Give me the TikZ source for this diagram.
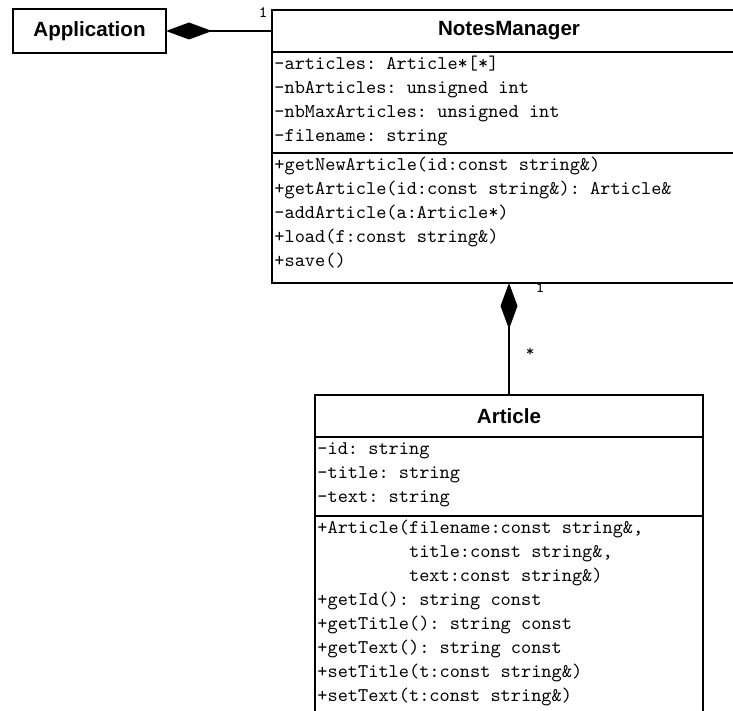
\documentclass[tikz,border=0pt]{standalone}
\usepackage{fontspec}
\setsansfont{Liberation Sans}
\usetikzlibrary{arrows.meta}
\usetikzlibrary{positioning}
\tikzstyle{classbox} = [rectangle, draw, line width=1.4pt, inner sep=0pt, outer sep=0pt, minimum height=21pt, font=\sffamily\bfseries\fontsize{10.3}{12}\selectfont]
\tikzstyle{classpart} = [rectangle, draw, line width=1.4pt, inner sep=0pt, outer sep=0pt]
\tikzstyle{members} = [align=left, anchor=north west, inner xsep=1pt, inner ysep=0pt, font=\ttfamily\frenchspacing\fontsize{9.7}{12}\selectfont]
\tikzstyle{mult} = [inner sep=0pt, font=\ttfamily\fontsize{8}{9}\selectfont]
\tikzstyle{composition} = [line width=1pt, -{Diamond[length=23pt, width=8.5pt]}]

\begin{document}
\begin{tikzpicture}[x=1pt, y=1pt]
		\useasboundingbox (0,0) rectangle (366.5,-355.5);
		\clip (0,0) rectangle (366.5,-355.5);
		% application
		\node [classbox, anchor=north west, minimum width=76.5pt, minimum height=22pt] (app) at (6.5,-4.5) {Application};
		% notes manager: name, attributes, operations
		\node [classbox, anchor=north west, minimum width=237pt] (nm-title) at (136,-5) {NotesManager};
		\node [classpart, below=0pt of nm-title, minimum width=237pt, minimum height=50.5pt] (nm-attr) {};
		\node [classpart, below=0pt of nm-attr, minimum width=237pt, minimum height=65pt] (nm-ops) {};
		\node [members] (nm-attr-list) at (nm-attr.north west) {\strut-articles: Article*[*]\\-nbArticles: unsigned int\\-nbMaxArticles: unsigned int\\-filename: string};
		\node [members] (nm-ops-list) at (nm-ops.north west) {\strut+getNewArticle(id:const string\&)\\+getArticle(id:const string\&): Article\&\\-addArticle(a:Article*)\\+load(f:const string\&)\\+save()};
		% article: name, attributes, operations
		\node [classbox, anchor=north west, minimum width=194pt] (art-title) at (157.5,-197.5) {Article};
		\node [classpart, below=0pt of art-title, minimum width=194pt, minimum height=39.5pt] (art-attr) {};
		\node [classpart, below=0pt of art-attr, minimum width=194pt, minimum height=100.5pt] (art-ops) {};
		\node [members] (art-attr-list) at (art-attr.north west) {\strut-id: string\\-title: string\\-text: string};
		\node [members] (art-ops-list) at (art-ops.north west) {\strut+Article(filename:const string\&,\\\phantom{+Article(}title:const string\&,\\\phantom{+Article(}text:const string\&)\\+getId(): string const\\+getTitle(): string const\\+getText(): string const\\+setTitle(t:const string\&)\\+setText(t:const string\&)};
		% compositions
		\draw [composition] (nm-title.west) -- (app.east);
		\draw [composition] (art-title.north) -- (nm-ops.south);
		% multiplicities
		\node [mult] (m-app) at (131.5,-6.5) {1};
		\node [mult] (m-nm) at (270,-144) {1};
		\node [mult] (m-art) at (265,-176) {*};
	\end{tikzpicture}
\end{document}
